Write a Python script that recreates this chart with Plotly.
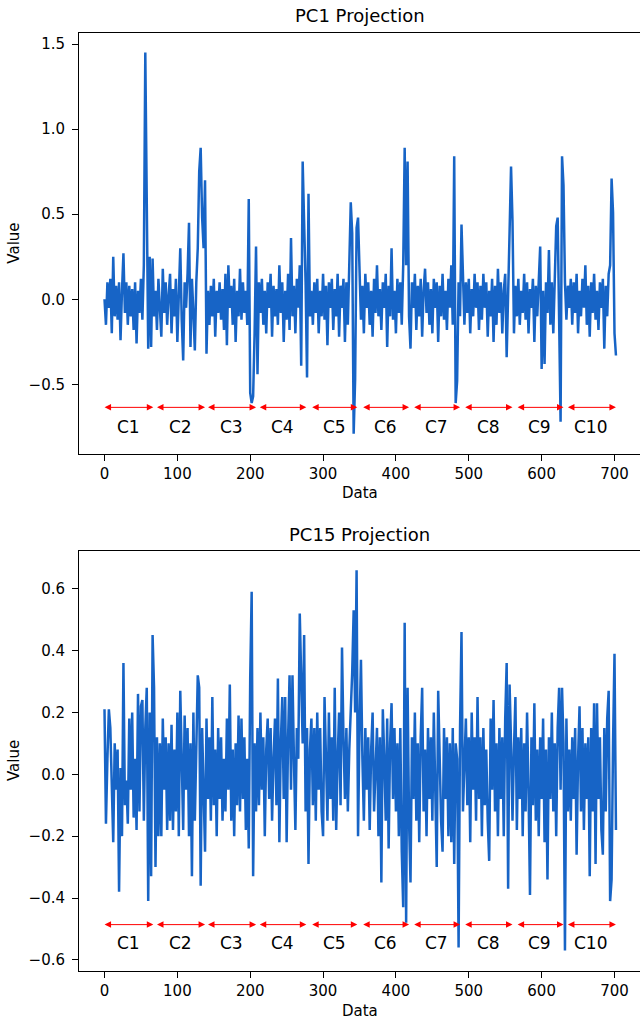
import plotly.graph_objects as go

# ---------------- data ----------------
# sampled every 2 data units, x = 0, 2, 4, ... , 702
pc1_values = [
    0.0, -0.15, 0.1, -0.05, 0.12, -0.2, 0.25, -0.1, 0.08, -0.12, 0.1, -0.24, 0.05, 0.27, -0.08, 0.1,
    -0.15, 0.08, -0.1, 0.06, -0.18, 0.1, -0.26, 0.05, -0.08, 0.12, -0.12, 0.2, 1.45, 0.42, -0.29, 0.25,
    -0.28, 0.24, -0.1, 0.05, -0.18, 0.12, -0.05, -0.22, 0.18, -0.08, 0.1, -0.15, 0.02, 0.15, -0.2, 0.06,
    -0.1, 0.12, -0.25, 0.08, 0.3, -0.12, -0.36, 0.1, -0.05, 0.15, 0.45, -0.28, 0.12, -0.08, -0.3, 0.1,
    0.3, 0.75, 0.89, 0.48, 0.3, 0.7, -0.32, 0.05, -0.15, 0.08, -0.1, 0.12, -0.22, 0.05, -0.08, 0.1,
    -0.12, 0.06, -0.18, 0.15, -0.27, 0.2, -0.05, 0.08, -0.15, 0.12, -0.25, 0.05, -0.1, 0.18, -0.12, 0.1,
    -0.08, 0.05, -0.15, 0.59, -0.55, -0.61, -0.57, -0.2, 0.31, -0.44, 0.1, -0.08, 0.12, -0.15, 0.05, -0.2,
    0.1, -0.05, 0.15, -0.22, 0.08, -0.1, 0.06, -0.15, 0.2, -0.08, 0.1, -0.25, 0.05, -0.12, 0.15, -0.18,
    0.36, -0.1, 0.08, -0.2, 0.12, -0.05, 0.2, -0.39, 0.81, 0.45, 0.1, -0.46, 0.62, -0.1, 0.05, -0.15,
    0.1, -0.08, 0.12, -0.2, 0.05, -0.1, 0.15, -0.12, 0.08, -0.27, 0.1, -0.05, 0.12, -0.18, 0.06, -0.1,
    0.15, -0.22, 0.08, -0.05, 0.12, -0.25, 0.1, -0.15, 0.2, 0.57, 0.39, -0.79, -0.47, 0.42, 0.48, 0.1,
    -0.12, 0.08, -0.2, 0.15, -0.05, 0.1, -0.15, 0.05, -0.22, 0.12, -0.08, 0.2, -0.1, 0.06, -0.18, 0.1,
    -0.05, 0.15, -0.28, 0.08, -0.1, 0.3, -0.12, 0.05, -0.2, 0.12, -0.08, 0.1, -0.15, 0.2, 0.89, 0.2,
    0.81, -0.1, -0.29, 0.1, -0.05, 0.15, -0.18, 0.08, -0.1, 0.12, -0.22, 0.05, 0.18, -0.08, 0.1, -0.15,
    0.06, -0.2, 0.12, -0.05, 0.1, -0.25, 0.08, -0.1, 0.15, -0.12, 0.05, -0.18, 0.12, -0.05, 0.2, -0.15,
    0.84, -0.61, -0.48, 0.1, -0.1, 0.44, 0.05, -0.15, 0.1, -0.08, 0.12, -0.2, 0.06, -0.1, 0.15, -0.05,
    0.1, -0.18, 0.08, -0.12, 0.15, -0.05, 0.1, -0.22, 0.05, -0.1, 0.12, -0.25, 0.08, -0.15, 0.18, -0.08,
    0.1, -0.2, 0.05, 0.15, -0.34, 0.12, 0.4, 0.78, 0.46, -0.2, 0.08, -0.1, 0.12, -0.15, 0.05, -0.08,
    0.15, -0.12, 0.1, -0.2, 0.06, -0.05, 0.12, -0.25, 0.08, -0.1, 0.15, 0.31, -0.41, 0.05, -0.38, 0.1,
    -0.08, 0.29, -0.15, 0.1, -0.2, 0.12, 0.43, 0.48, -0.2, -0.72, 0.84, 0.67, 0.1, -0.12, 0.08, -0.05,
    0.12, -0.15, 0.1, -0.08, 0.15, -0.2, 0.05, -0.1, 0.12, -0.05, 0.2, -0.15, 0.08, -0.22, 0.1, -0.08,
    0.15, -0.12, 0.05, -0.18, 0.1, -0.05, 0.12, -0.29, 0.08, -0.1, 0.15, 0.2, 0.71, 0.51, -0.2, -0.33,
]

pc15_values = [
    0.21, -0.16, 0.05, 0.21, 0.15, -0.1, -0.22, 0.1, -0.05, 0.08, -0.38, 0.02, -0.2, 0.36, -0.1, -0.02,
    -0.16, 0.18, -0.05, 0.2, -0.14, 0.05, -0.18, 0.26, -0.12, 0.22, 0.24, -0.15, 0.15, 0.28, -0.41, 0.2,
    -0.33, 0.45, 0.28, -0.3, 0.12, -0.2, 0.1, -0.2, 0.18, -0.05, 0.12, -0.18, 0.1, -0.15, 0.16, -0.18,
    0.08, -0.12, 0.2, -0.2, 0.27, 0.05, -0.18, 0.19, -0.05, 0.15, -0.2, 0.1, -0.33, 0.2, -0.15, 0.08,
    0.32, 0.28, -0.36, 0.15, -0.12, -0.25, 0.18, -0.08, 0.12, -0.15, 0.25, -0.1, 0.08, -0.2, 0.15, -0.08,
    0.12, -0.15, 0.05, -0.12, 0.18, -0.05, 0.29, -0.15, 0.08, -0.2, 0.1, -0.1, 0.19, -0.12, 0.18, -0.08,
    0.12, -0.18, 0.05, -0.24, 0.31, 0.59, -0.33, 0.1, -0.12, 0.15, -0.1, 0.2, -0.05, 0.12, -0.2, 0.08,
    0.18, -0.08, 0.15, -0.15, 0.05, 0.18, -0.1, 0.31, -0.22, 0.1, 0.25, -0.08, 0.25, -0.22, 0.12, 0.32,
    -0.05, 0.32, 0.05, -0.18, 0.15, 0.05, 0.52, 0.27, 0.1, 0.45, -0.12, 0.15, -0.29, 0.08, 0.18, -0.1,
    0.15, -0.15, 0.2, -0.05, 0.15, -0.12, -0.2, 0.25, 0.05, -0.15, 0.2, -0.08, 0.12, -0.15, 0.28, -0.18,
    0.05, 0.2, -0.1, 0.41, 0.12, -0.08, 0.15, -0.12, 0.08, 0.2, 0.33, 0.53, 0.2, 0.66, -0.2, 0.15,
    0.37, 0.05, -0.15, 0.15, -0.05, 0.12, -0.18, 0.08, 0.2, -0.12, 0.05, 0.15, -0.2, 0.12, -0.35, 0.21,
    0.05, -0.15, 0.18, -0.24, 0.1, 0.23, -0.08, 0.15, -0.12, 0.1, -0.2, 0.15, -0.25, -0.43, 0.49, -0.48,
    0.28, -0.15, -0.35, 0.12, -0.08, 0.2, -0.15, 0.1, -0.22, 0.12, 0.28, -0.12, 0.08, -0.2, 0.15, -0.08,
    0.12, -0.15, 0.2, -0.1, -0.3, 0.27, 0.05, -0.15, -0.25, 0.15, -0.08, 0.12, -0.2, 0.1, -0.22, 0.15,
    -0.29, 0.1, 0.05, -0.56, 0.15, 0.46, -0.12, 0.08, 0.18, -0.1, 0.12, -0.22, 0.2, -0.05, 0.12, -0.15,
    0.25, -0.08, 0.12, -0.2, 0.15, -0.1, 0.08, -0.15, -0.28, 0.18, -0.05, 0.24, -0.12, 0.1, -0.2, 0.15,
    -0.08, 0.12, -0.2, 0.18, 0.36, -0.37, 0.29, 0.1, -0.15, 0.08, 0.25, -0.18, 0.12, -0.08, 0.15, -0.2,
    0.1, -0.12, 0.2, -0.05, -0.39, 0.12, -0.1, 0.23, -0.15, 0.08, -0.2, 0.12, -0.08, 0.18, -0.22, 0.08,
    -0.34, 0.12, -0.08, 0.2, -0.12, 0.1, -0.2, 0.15, 0.28, -0.05, 0.28, 0.1, -0.57, 0.18, -0.12, 0.08,
    -0.15, 0.12, -0.08, 0.15, -0.26, 0.05, 0.22, -0.12, 0.15, -0.18, 0.1, -0.08, 0.12, -0.33, 0.15, -0.12,
    0.23, -0.29, 0.23, -0.08, 0.12, -0.18, -0.26, 0.15, -0.12, 0.18, 0.27, -0.41, -0.34, 0.1, 0.39, -0.18,
]

data_index = list(range(0, 2 * len(pc1_values), 2))

class_labels = ["C1", "C2", "C3", "C4", "C5", "C6", "C7", "C8", "C9", "C10"]
class_starts = [-2, 70, 140, 211, 283, 353, 423, 493, 565, 634]
class_ends = [67, 138, 208, 277, 347, 418, 488, 560, 630, 702]

x_ticks = [0, 100, 200, 300, 400, 500, 600, 700]
pc1_yticks = [-0.5, 0.0, 0.5, 1.0, 1.5]
pc15_yticks = [-0.6, -0.4, -0.2, 0.0, 0.2, 0.4, 0.6]

titles = ["PC1 Projection", "PC15 Projection"]

# ---------------- figure ----------------
W, H = 640, 1021
FONT = "DejaVu Sans"
LINE_COLOR = "#1764c6"

fig = go.Figure()
fig.add_trace(go.Scatter(x=data_index, y=pc1_values, mode="lines",
                         line=dict(color=LINE_COLOR, width=2.5), xaxis="x", yaxis="y",
                         showlegend=False, hoverinfo="skip"))
fig.add_trace(go.Scatter(x=data_index, y=pc15_values, mode="lines",
                         line=dict(color=LINE_COLOR, width=2.5), xaxis="x2", yaxis="y2",
                         showlegend=False, hoverinfo="skip"))

def px_to_paper_y(py):
    return 1 - py / H

panels = [
    dict(top=33.3, bottom=454, yr=[-0.909, 1.563], yt=pc1_yticks, ay=-0.635, ly=-0.749,
         ty=16, dy=493),
    dict(top=551, bottom=971, yr=[-0.636, 0.722], yt=pc15_yticks, ay=-0.486, ly=-0.547,
         ty=534, dy=1011),
]

axis_common = dict(showline=True, linecolor="black", linewidth=1, ticks="outside",
                   ticklen=6, tickwidth=1, tickcolor="black", showgrid=False,
                   zeroline=False, tickfont=dict(family=FONT, size=15, color="black"))

annotations = []
for i, p in enumerate(panels):
    sfx = "" if i == 0 else "2"
    xa, ya = "x" + sfx, "y" + sfx
    fig.layout["xaxis" + sfx] = dict(domain=[0, 1], anchor=ya, range=[-35, 735],
                                     tickmode="array", tickvals=x_ticks, mirror=True,
                                     **axis_common)
    fig.layout["yaxis" + sfx] = dict(domain=[px_to_paper_y(p["bottom"]), px_to_paper_y(p["top"])],
                                     anchor=xa, range=p["yr"], tickmode="array",
                                     tickvals=p["yt"], tickformat=".1f", mirror=False,
                                     ticklabelstandoff=4, **axis_common)
    for lab, s, e in zip(class_labels, class_starts, class_ends):
        annotations.append(dict(xref=xa, yref=ya, axref=xa, ayref=ya, x=e, y=p["ay"],
                                ax=s, ay=p["ay"], text="", showarrow=True,
                                arrowside="end+start", arrowhead=2, arrowsize=1.3,
                                arrowwidth=1, arrowcolor="#ff0000"))
        annotations.append(dict(xref=xa, yref=ya, x=(s + e) / 2, y=p["ly"], text=lab,
                                showarrow=False, font=dict(family=FONT, size=17, color="black"),
                                xanchor="center", yanchor="middle"))
    annotations.append(dict(xref="paper", yref="paper", x=0.5, y=px_to_paper_y(p["ty"]),
                            text=titles[i], showarrow=False, xanchor="center", yanchor="middle",
                            font=dict(family=FONT, size=18, color="black")))
    annotations.append(dict(xref="paper", yref="paper", x=0.5, y=px_to_paper_y(p["dy"]),
                            text="Data", showarrow=False, xanchor="center", yanchor="middle",
                            font=dict(family=FONT, size=15, color="black")))
    annotations.append(dict(xref="paper", yref="paper", x=(14 - 79) / (W - 79),
                            y=px_to_paper_y((p["top"] + p["bottom"]) / 2),
                            text="Value", showarrow=False, textangle=-90,
                            xanchor="center", yanchor="middle",
                            font=dict(family=FONT, size=15, color="black")))

fig.update_layout(width=W, height=H, margin=dict(l=79, r=0, t=0, b=0, autoexpand=False),
                  paper_bgcolor="white", plot_bgcolor="white", annotations=annotations,
                  font=dict(family=FONT, color="black"))

fig.write_html("out.html", config={"displayModeBar": False, "staticPlot": True},
               post_script="document.body.style.margin='0';document.body.style.overflow='hidden';")
